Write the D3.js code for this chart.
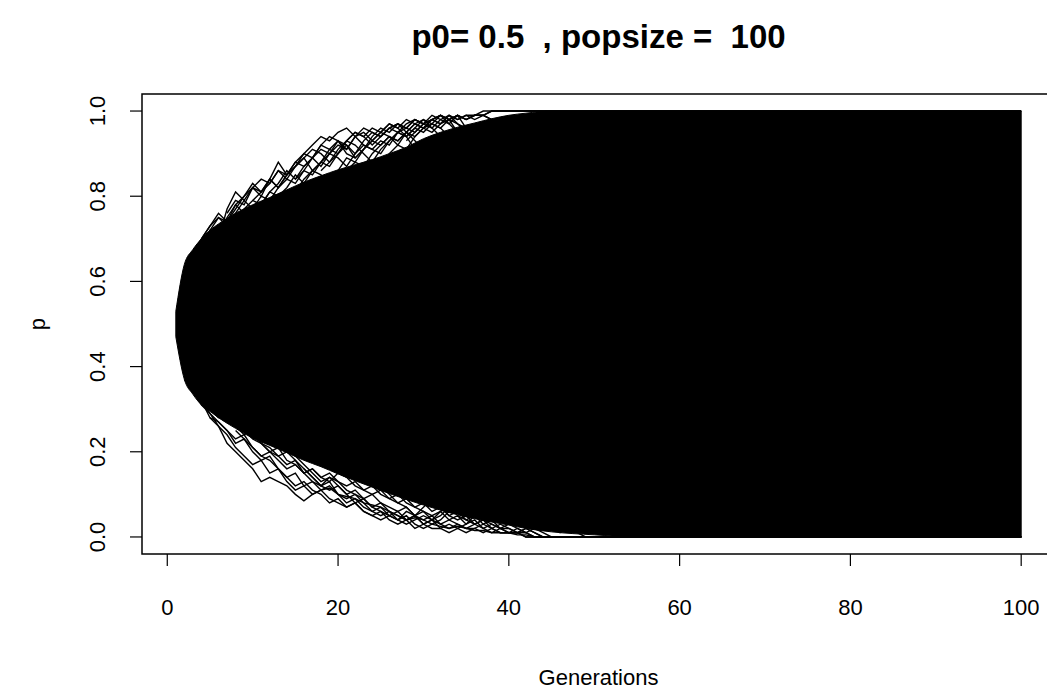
<!DOCTYPE html>
<html>
<head>
<meta charset="utf-8">
<script src="https://cdn.jsdelivr.net/npm/d3@7"></script>
<style>
  body { margin: 0; background: #fff; }
  text { font-family: "Liberation Sans", Arial, sans-serif; fill: #000; white-space: pre; }
</style>
</head>
<body>
<svg id="chart" width="1047" height="692"></svg>
<script>
// Wright-Fisher drift: many replicate runs, p0 = 0.5, N = 100, 100 generations
const p0 = 0.5;
const popsize = 100;
const nGen = 100;

const xTicks = [0, 20, 40, 60, 80, 100];
const yTicks = [0.0, 0.2, 0.4, 0.6, 0.8, 1.0];

// Envelope of the densely overplotted runs (generation, upper p, lower p)
const coreGens  = [1, 2, 3, 4, 5, 6, 8, 10, 12, 14, 16, 18, 20, 22, 24, 26, 28, 30, 32, 34, 36, 38, 40, 42, 45, 50, 55, 60, 70, 80, 90, 100];
const coreUpper = [0.53, 0.64, 0.675, 0.70, 0.72, 0.735, 0.76, 0.78, 0.797, 0.815, 0.833, 0.848, 0.862, 0.874, 0.886, 0.9, 0.915, 0.935, 0.95, 0.962, 0.972, 0.982, 0.99, 0.995, 1.0, 1.0, 1.0, 1.0, 1.0, 1.0, 1.0, 1.0];
const coreLower = [0.47, 0.37, 0.335, 0.31, 0.295, 0.28, 0.255, 0.232, 0.215, 0.198, 0.18, 0.165, 0.148, 0.132, 0.117, 0.102, 0.088, 0.075, 0.063, 0.052, 0.043, 0.035, 0.028, 0.02, 0.012, 0.005, 0.0, 0.0, 0.0, 0.0, 0.0, 0.0];

// Individual runs that stand out at the edge of the bundle (p per generation)
const runUp1  = [0.66, 0.69, 0.72, 0.70, 0.77, 0.81, 0.79, 0.82, 0.80, 0.84, 0.88, 0.85, 0.87, 0.90, 0.92, 0.94, 0.93, 0.95, 0.96, 0.94, 0.92, 0.91, 0.93, 0.92, 0.95, 0.96, 0.95, 0.97, 0.98, 0.97, 0.98, 0.99, 0.98, 0.99, 0.99, 1.0];
const runUp2  = [0.70, 0.73, 0.76, 0.74, 0.78, 0.80, 0.83, 0.81, 0.84, 0.82, 0.85, 0.87, 0.89, 0.86, 0.88, 0.91, 0.90, 0.92, 0.89, 0.91, 0.93, 0.92, 0.94, 0.93, 0.95, 0.94, 0.96, 0.97, 0.96, 0.98, 0.97, 0.95];
const runUp3  = [0.72, 0.75, 0.73, 0.76, 0.79, 0.77, 0.80, 0.79, 0.82, 0.84, 0.83, 0.86, 0.85, 0.88, 0.90, 0.89, 0.87, 0.90, 0.92, 0.91, 0.90, 0.93, 0.95, 0.94, 0.96, 0.95, 0.97, 0.96, 0.94];
const runUp4  = [0.74, 0.77, 0.79, 0.78, 0.81, 0.83, 0.86, 0.84, 0.87, 0.89, 0.92, 0.91, 0.93, 0.90, 0.89, 0.91, 0.94, 0.96, 0.95, 0.97, 0.96, 0.98, 0.97, 0.99, 0.98, 0.99, 0.97, 0.96];
const runUp5  = [0.77, 0.80, 0.82, 0.85, 0.83, 0.86, 0.88, 0.87, 0.90, 0.93, 0.92, 0.90, 0.88, 0.91, 0.93, 0.95, 0.94, 0.96, 0.98, 0.97, 0.99, 0.98, 0.95];
const runUp6  = [0.83, 0.86, 0.88, 0.87, 0.90, 0.92, 0.94, 0.93, 0.95, 0.97, 0.96, 0.98, 0.99, 0.98, 0.99, 0.96];
const runUp7  = [0.71, 0.75, 0.78, 0.76, 0.75, 0.78, 0.81, 0.80, 0.78, 0.81, 0.84, 0.86, 0.85, 0.83, 0.86, 0.89, 0.88, 0.91, 0.93, 0.95, 0.94, 0.92, 0.95, 0.97, 0.96, 0.98, 0.97, 0.99, 0.98, 0.99, 0.98, 0.99, 0.98, 0.97];
const runUp8  = [0.87, 0.90, 0.92, 0.91, 0.94, 0.96, 0.95, 0.97, 0.99, 0.98, 0.99, 0.99, 1.0];
const runUp9  = [0.63, 0.67, 0.70, 0.73, 0.75, 0.74, 0.77, 0.80, 0.82, 0.81, 0.83, 0.86, 0.84, 0.87, 0.89, 0.91, 0.90, 0.88, 0.90, 0.93, 0.95, 0.94, 0.96, 0.95, 0.97, 0.96, 0.94, 0.91];
const runUp10 = [0.76, 0.79, 0.78, 0.82, 0.84, 0.83, 0.86, 0.85, 0.88, 0.87, 0.89, 0.92, 0.94, 0.93, 0.91, 0.94, 0.96, 0.95, 0.94, 0.96, 0.97, 0.95, 0.93, 0.91];
const runUp11 = [0.79, 0.81, 0.84, 0.82, 0.85, 0.88, 0.90, 0.89, 0.87, 0.90, 0.92, 0.91, 0.94, 0.95, 0.93, 0.95, 0.97, 0.96, 0.98, 0.97, 0.98, 0.96, 0.94];
const runUp12 = [0.84, 0.86, 0.89, 0.91, 0.90, 0.93, 0.92, 0.90, 0.93, 0.95, 0.94, 0.96, 0.97, 0.96, 0.98, 0.97, 0.98, 0.99, 0.97, 0.95];
const runUp13 = [0.86, 0.88, 0.91, 0.93, 0.95, 0.94, 0.92, 0.94, 0.96, 0.95, 0.97, 0.98, 0.97, 0.98, 0.99, 0.98, 0.99, 0.98, 0.99, 0.99, 0.98, 0.97];
const runUp14 = [0.93, 0.95, 0.97, 0.96, 0.98, 0.97, 0.99, 0.98, 0.99, 0.99, 1.0];

const runLo1  = [0.39, 0.35, 0.31, 0.29, 0.26, 0.22, 0.20, 0.18, 0.16, 0.13, 0.14, 0.13, 0.12, 0.10, 0.085, 0.10, 0.11, 0.115, 0.10, 0.095, 0.09, 0.08, 0.075, 0.07, 0.06, 0.05, 0.04, 0.045, 0.04, 0.03, 0.025, 0.02, 0.025, 0.02, 0.015, 0.015, 0.01, 0.01, 0.01, 0.005, 0.005, 0.0];
const runLo2  = [0.34, 0.32, 0.29, 0.27, 0.25, 0.23, 0.24, 0.21, 0.19, 0.20, 0.18, 0.16, 0.17, 0.15, 0.13, 0.12, 0.14, 0.13, 0.11, 0.10, 0.09, 0.10, 0.08, 0.07, 0.06, 0.07, 0.05, 0.06, 0.04, 0.03, 0.04, 0.03, 0.02, 0.03, 0.02, 0.01, 0.02, 0.01, 0.01, 0.0];
const runLo3  = [0.31, 0.30, 0.28, 0.29, 0.26, 0.24, 0.25, 0.22, 0.21, 0.19, 0.20, 0.18, 0.15, 0.16, 0.14, 0.15, 0.13, 0.12, 0.13, 0.11, 0.12, 0.10, 0.09, 0.08, 0.09, 0.07, 0.06, 0.05, 0.06, 0.04, 0.05, 0.03, 0.04, 0.02, 0.03, 0.02, 0.01, 0.01, 0.02, 0.01, 0.0];
const runLo4  = [0.29, 0.27, 0.28, 0.25, 0.23, 0.22, 0.20, 0.21, 0.18, 0.17, 0.15, 0.16, 0.14, 0.13, 0.15, 0.14, 0.12, 0.11, 0.10, 0.11, 0.09, 0.10, 0.08, 0.07, 0.08, 0.06, 0.07, 0.05, 0.04, 0.05, 0.03, 0.04, 0.03, 0.02, 0.02, 0.01, 0.01, 0.0];
const runLo5  = [0.24, 0.22, 0.20, 0.19, 0.17, 0.18, 0.16, 0.14, 0.12, 0.11, 0.12, 0.10, 0.08, 0.09, 0.07, 0.06, 0.05, 0.06, 0.04, 0.05, 0.03, 0.04, 0.05, 0.07];
const runLo6  = [0.21, 0.19, 0.17, 0.15, 0.13, 0.14, 0.12, 0.10, 0.11, 0.09, 0.07, 0.08, 0.06, 0.05, 0.04, 0.05, 0.03, 0.04, 0.02, 0.03, 0.02, 0.03, 0.05, 0.06];
const runLo7  = [0.14, 0.12, 0.10, 0.08, 0.07, 0.05, 0.04, 0.05, 0.03, 0.02, 0.03, 0.02, 0.02, 0.01, 0.02, 0.01, 0.01, 0.02, 0.01, 0.0];
const runLo8  = [0.10, 0.08, 0.07, 0.05, 0.06, 0.04, 0.03, 0.04, 0.02, 0.03, 0.02, 0.01, 0.02, 0.01, 0.0];
const runLo9  = [0.07, 0.06, 0.05, 0.04, 0.05, 0.03, 0.02, 0.03, 0.01, 0.02, 0.01, 0.0];
const runLo10 = [0.06, 0.05, 0.04, 0.03, 0.04, 0.02, 0.03, 0.01, 0.02, 0.01, 0.0];
const runLo11 = [0.37, 0.34, 0.32, 0.28, 0.27, 0.25, 0.22, 0.23, 0.20, 0.18, 0.19, 0.16, 0.14, 0.15, 0.12, 0.13, 0.11, 0.12, 0.10, 0.08, 0.09, 0.07, 0.06, 0.05, 0.06, 0.04, 0.03, 0.04, 0.05, 0.04, 0.06, 0.07];
const runLo12 = [0.28, 0.26, 0.24, 0.21, 0.19, 0.17, 0.18, 0.15, 0.16, 0.13, 0.11, 0.12, 0.10, 0.11, 0.09, 0.08, 0.07, 0.08, 0.06, 0.05, 0.04, 0.05, 0.04, 0.06, 0.05, 0.07, 0.09];
const runLo13 = [0.25, 0.23, 0.21, 0.19, 0.18, 0.16, 0.14, 0.12, 0.13, 0.11, 0.10, 0.08, 0.09, 0.07, 0.08, 0.06, 0.05, 0.06, 0.04, 0.03, 0.04, 0.02, 0.03, 0.02, 0.02, 0.01, 0.02, 0.01, 0.02, 0.03, 0.02, 0.01, 0.01, 0.01, 0.0];
const runLo14 = [0.16, 0.14, 0.12, 0.13, 0.10, 0.09, 0.10, 0.08, 0.06, 0.07, 0.05, 0.04, 0.05, 0.03, 0.02, 0.03, 0.04, 0.06];
const runLo15 = [0.05, 0.04, 0.05, 0.03, 0.04, 0.02, 0.03, 0.02, 0.01, 0.02, 0.01, 0.0];
const runLo16 = [0.04, 0.03, 0.04, 0.02, 0.03, 0.01, 0.02, 0.01, 0.0];

// first generation shown for each run above
const runs = [
  { start: 3,  p: runUp1 },  { start: 4,  p: runUp2 },  { start: 5,  p: runUp3 },
  { start: 8,  p: runUp4 },  { start: 12, p: runUp5 },  { start: 20, p: runUp6 },
  { start: 6,  p: runUp7 },  { start: 25, p: runUp8 },  { start: 2,  p: runUp9 },
  { start: 7,  p: runUp10 }, { start: 10, p: runUp11 }, { start: 15, p: runUp12 },
  { start: 18, p: runUp13 }, { start: 28, p: runUp14 },
  { start: 2,  p: runLo1 },  { start: 3,  p: runLo2 },  { start: 4,  p: runLo3 },
  { start: 6,  p: runLo4 },  { start: 10, p: runLo5 },  { start: 14, p: runLo6 },
  { start: 24, p: runLo7 },  { start: 30, p: runLo8 },  { start: 38, p: runLo9 },
  { start: 44, p: runLo10 }, { start: 2,  p: runLo11 }, { start: 5,  p: runLo12 },
  { start: 8,  p: runLo13 }, { start: 16, p: runLo14 }, { start: 34, p: runLo15 },
  { start: 48, p: runLo16 }
];

const svg = d3.select("#chart");

// plot region (R-style: 4% padding beyond data range on each axis)
const box = { left: 142, right: 1055, top: 94, bottom: 554 };
const x = d3.scaleLinear().domain([-2.96, 103.96]).range([box.left, box.right]);
const y = d3.scaleLinear().domain([-0.04, 1.04]).range([box.bottom, box.top]);

const plot = svg.append("g");

// dense bundle of runs
const core = coreGens.map((g, i) => ({ g, hi: coreUpper[i], lo: coreLower[i] }));
plot.append("path")
  .datum(core)
  .attr("fill", "#000")
  .attr("stroke", "#000")
  .attr("stroke-width", 1)
  .attr("d", d3.area()
    .x(d => x(d.g))
    .y0(d => y(d.lo))
    .y1(d => y(d.hi))
    .curve(d3.curveMonotoneX));

// outlying runs; an allele that is lost or fixed stays there
const line = d3.line().x(d => x(d[0])).y(d => y(d[1]));
runs.forEach(r => {
  const pts = r.p.map((v, i) => [r.start + i, v]);
  const last = r.p[r.p.length - 1];
  const endGen = r.start + r.p.length - 1;
  if ((last === 0 || last === 1) && endGen < nGen) pts.push([nGen, last]);
  plot.append("path")
    .attr("d", line(pts))
    .attr("fill", "none")
    .attr("stroke", "#000")
    .attr("stroke-width", 1.4);
});

// frame
svg.append("rect")
  .attr("x", box.left).attr("y", box.top)
  .attr("width", box.right - box.left).attr("height", box.bottom - box.top)
  .attr("fill", "none").attr("stroke", "#000").attr("stroke-width", 1.5);

// x axis ticks and labels
const tickLen = 12;
const xAxis = svg.append("g");
xAxis.selectAll("line").data(xTicks).join("line")
  .attr("x1", d => x(d)).attr("x2", d => x(d))
  .attr("y1", box.bottom).attr("y2", box.bottom + tickLen)
  .attr("stroke", "#000").attr("stroke-width", 1.2);
xAxis.selectAll("text").data(xTicks).join("text")
  .attr("x", d => x(d)).attr("y", 615)
  .attr("text-anchor", "middle")
  .attr("font-size", 22)
  .text(d => d);

// y axis ticks and labels (parallel to the axis)
const yAxis = svg.append("g");
yAxis.selectAll("line").data(yTicks).join("line")
  .attr("x1", box.left - tickLen).attr("x2", box.left)
  .attr("y1", d => y(d)).attr("y2", d => y(d))
  .attr("stroke", "#000").attr("stroke-width", 1.2);
yAxis.selectAll("text").data(yTicks).join("text")
  .attr("transform", d => `translate(105,${y(d)}) rotate(-90)`)
  .attr("text-anchor", "middle")
  .attr("font-size", 22)
  .text(d => d.toFixed(1));

// axis titles
svg.append("text")
  .attr("x", (box.left + box.right) / 2).attr("y", 685)
  .attr("text-anchor", "middle")
  .attr("font-size", 22)
  .text("Generations");
svg.append("text")
  .attr("transform", `translate(45,${(box.top + box.bottom) / 2}) rotate(-90)`)
  .attr("text-anchor", "middle")
  .attr("font-size", 22)
  .text("p");

// main title
svg.append("text")
  .attr("x", (box.left + box.right) / 2).attr("y", 48)
  .attr("text-anchor", "middle")
  .attr("font-size", 33)
  .attr("font-weight", "bold")
  .text(`p0= ${p0}  , popsize =  ${popsize}`);
</script>
</body>
</html>
